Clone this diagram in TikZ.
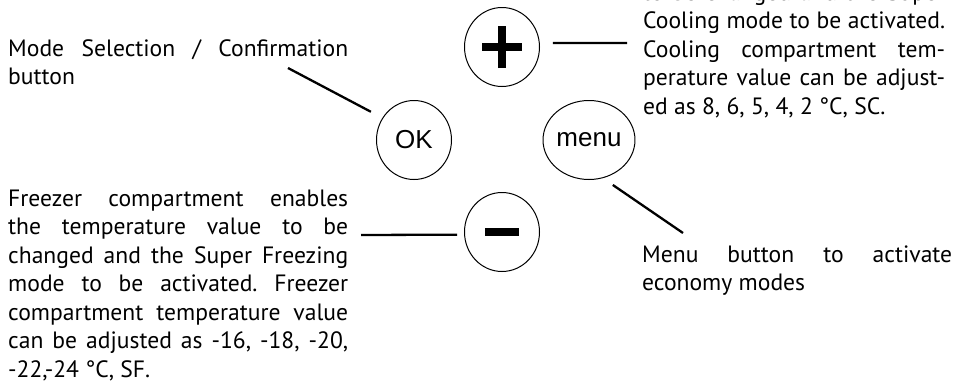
\documentclass[tikz,border=0pt]{standalone}
\usepackage{fontspec}
\setmainfont{PT Sans}
\newfontfamily\btnfont{Liberation Sans}
\usetikzlibrary{shapes.geometric}
\setlength{\parindent}{0pt}
\frenchspacing

\begin{document}
\begin{tikzpicture}[x=1pt,y=-1pt,
btn/.style={ellipse,draw,line width=1pt,minimum width=75pt,minimum height=79pt,inner sep=0pt,font=\btnfont\fontsize{26}{26}\selectfont},
txt/.style={anchor=base west,inner sep=0pt,align=justify,font=\fontsize{23.6}{28.5}\selectfont},
lead/.style={line width=2.3pt},
sign/.style={line width=7.5pt}]
\useasboundingbox (0,0) rectangle (962,383);
\node[btn] (plus) at (502,47) {};
\node[btn] (ok) at (414,140) {OK};
\node[btn] (menu) at (589,140) {menu};
\node[btn] (minus) at (502,232) {};
\draw[sign] ([xshift=-20pt]plus.center) -- ([xshift=20pt]plus.center);
\draw[sign] ([yshift=-21pt]plus.center) -- ([yshift=21pt]plus.center);
\draw[sign] ([xshift=-17pt]minus.center) -- ([xshift=17pt]minus.center);
\node[txt,text width=340pt] (modetxt) at (8,56) {Mode Selection / Confirmation\linebreak button};
\node[txt,text width=340pt] (freezetxt) at (8,206) {Freezer compartment enables\linebreak the temperature value to be\linebreak changed and the Super Freezing\linebreak mode to be activated. Freezer\linebreak compartment temperature value\linebreak can be adjusted as -16, -18, -20,\linebreak -22,-24 °C, SF.};
\node[txt,text width=302pt] (cooltxt) at (643,0) {to be changed and the Super\linebreak Cooling mode to be activated.\linebreak Cooling compartment tem-\linebreak perature value can be adjust-\linebreak ed as 8, 6, 5, 4, 2 °C, SC.};
\node[txt,text width=310pt] (menutxt) at (642,262) {Menu button to activate\linebreak economy modes};
\coordinate (okend) at (288,68);
\coordinate (plusend) at (627,43);
\coordinate (menuend) at (683,233);
\coordinate (minusend) at (361,235);
\draw[lead,shorten <=13pt] (ok.145) -- (okend);
\draw[lead,shorten <=13pt] (plus.6) -- (plusend);
\draw[lead,shorten <=12pt] (menu.-70) -- (menuend);
\draw[lead,shorten <=7pt] (minus.184) -- (minusend);
\end{tikzpicture}
\end{document}
